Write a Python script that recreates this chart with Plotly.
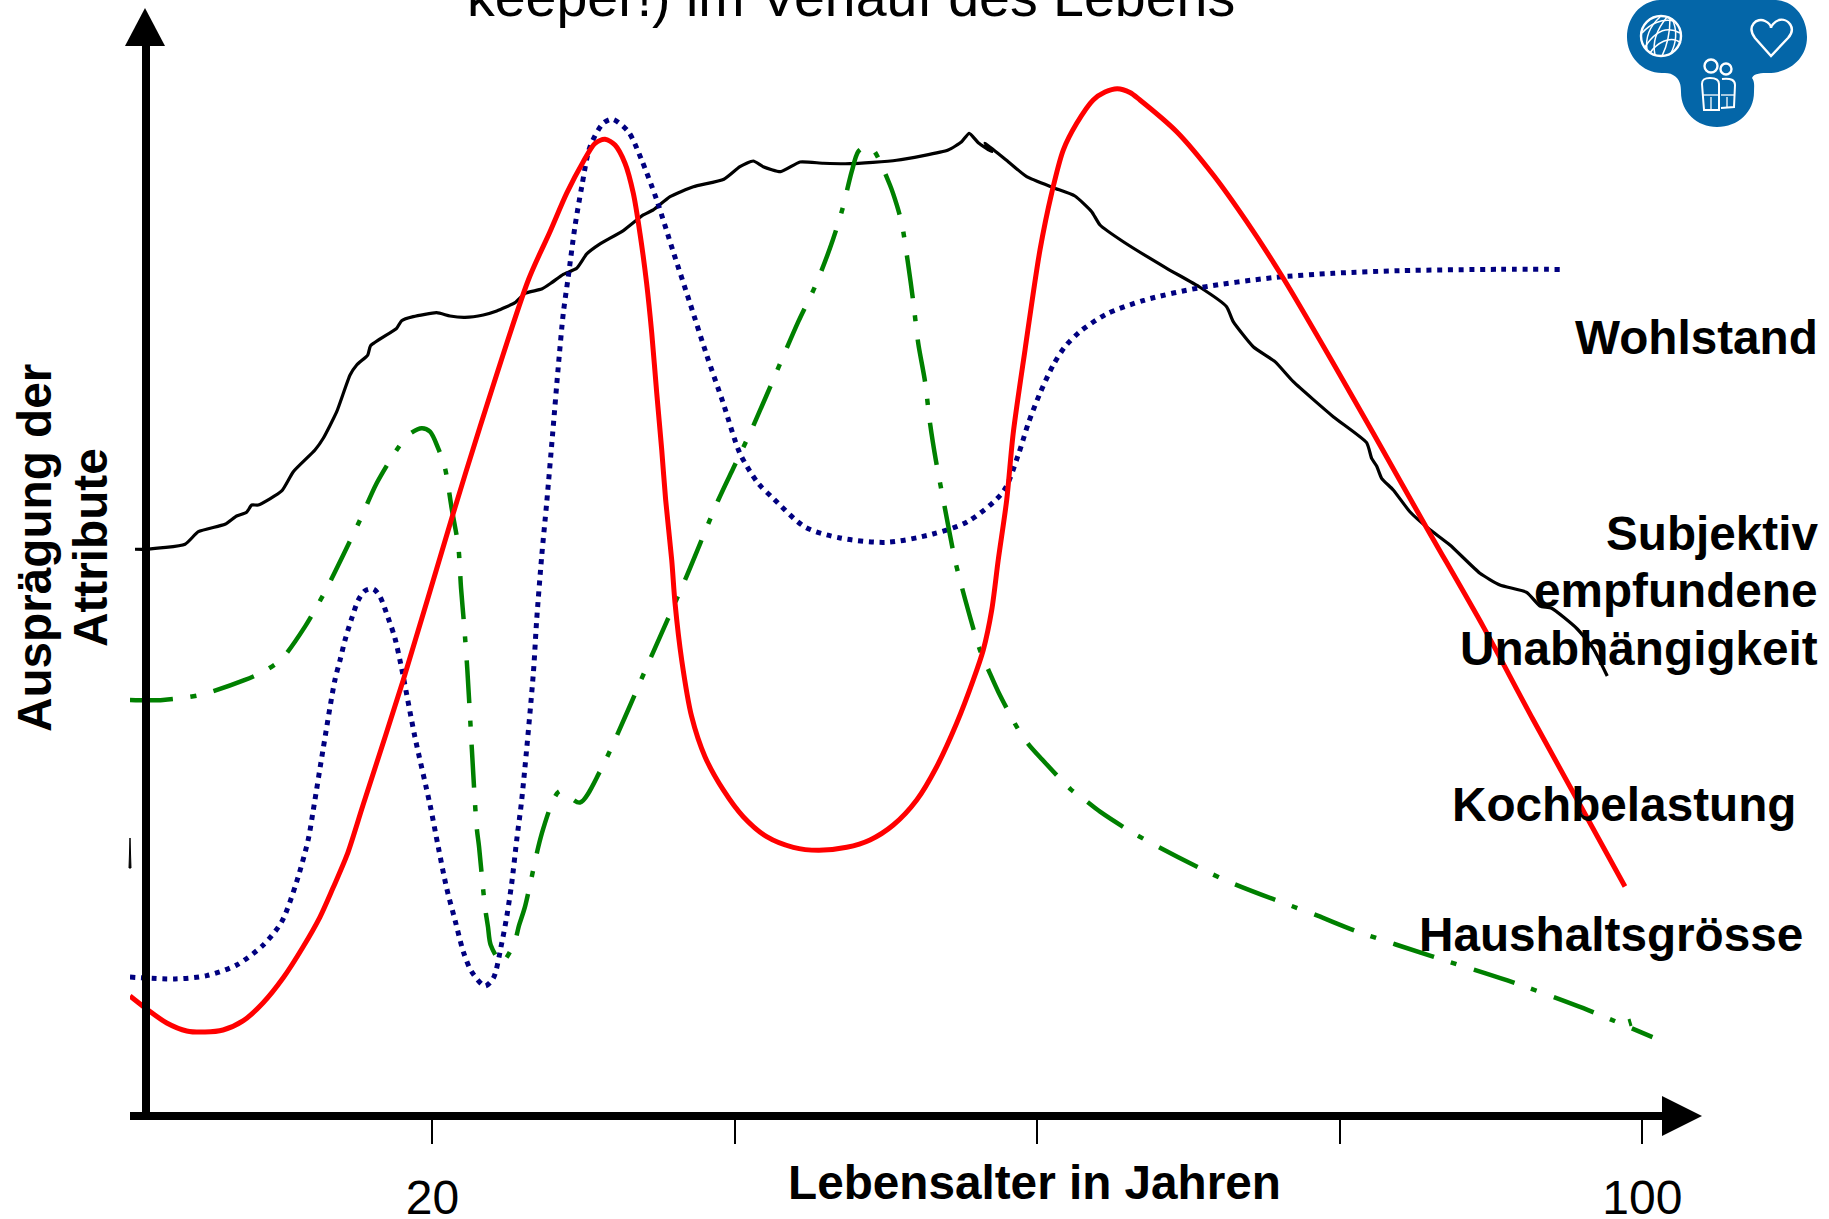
import plotly.graph_objects as go

# Values: age in years, attribute level on a free 0-100 scale
kochbelastung_age = [0,1.10,2.43,3.75,4.96,6.15,7.47,8.79,10.12,11.44,12.56,13.42,14.35,15.41,18.07,21.38,23.14,26.34,27.77,28.87,29.97,30.75,31.41,32.07,32.73,33.28,33.72,34.16,34.50,34.83,35.16,35.42,35.82,36.04,36.48,37.14,38.02,39.23,40.55,42.10,43.86,45.51,47.39,48.93,50.47,52.02,53.34,54.66,55.76,56.42,56.98,57.41,57.97,58.40,59.18,60.17,60.94,61.71,62.60,63.69,64.47,65.29,66.12,66.78,69.21,71.63,73.84,76.26,79.56,82.21,85.63,89.48,92.79,98.85]
kochbelastung_val = [10.88,9.66,8.35,7.60,7.50,7.69,8.54,10.23,12.57,15.48,18.29,21.01,24.11,28.80,40.53,56.19,64.26,78.05,82.58,86.18,89.15,90.87,91.25,90.71,89.0,86.18,82.43,77.74,73.05,67.42,62.10,57.41,51.78,47.72,42.40,37.08,33.33,30.21,27.70,25.83,24.83,24.55,24.83,25.52,26.92,29.27,32.39,36.46,40.53,43.34,47.09,51.78,57.41,63.67,71.48,80.86,86.18,90.24,92.75,94.94,95.69,96.00,95.64,94.94,91.96,87.90,83.52,78.21,70.24,63.67,55.07,45.53,36.77,21.15]

unabh_age = [0,2.98,5.07,7.05,8.81,10.03,11.02,11.79,12.12,12.76,13.55,13.89,14.22,14.66,15.10,15.54,16.09,16.53,17.08,17.52,17.96,18.84,19.84,20.38,20.94,21.49,22.04,22.59,23.47,24.02,24.58,24.91,25.24,25.57,25.90,26.67,26.89,27.22,27.55,27.95,28.32,28.65,28.98,29.42,29.87,30.42,31.29,31.89,32.95,33.83,34.83,35.92,37.03,38.13,39.23,40.33,41.52,42.53,44.63,46.95,50.02,53.09,55.41,57.74,58.73,59.40,60.17,61.05,61.82,62.81,64.58,67.11,70.75,75.59,79.56,83.97,90.58,94.75]
unabh_val = [12.66,12.48,12.79,13.79,15.67,17.85,21.60,25.58,28.33,33.96,40.53,42.40,44.28,46.31,48.03,48.90,49.06,48.34,46.31,44.44,41.62,35.18,28.80,24.89,20.99,18.01,15.04,13.16,11.82,12.54,15.83,18.32,21.45,25.52,29.27,41.15,46.15,52.09,57.10,63.70,69.92,74.93,78.36,83.05,86.80,90.56,92.75,93.13,91.96,89.31,85.55,80.70,75.87,71.01,66.48,61.79,59.0,57.57,54.88,53.85,53.44,54.22,55.40,58.19,61.63,64.61,67.42,70.08,71.79,73.20,74.86,76.17,77.33,78.27,78.68,78.92,79.05,79.04]

haushalt_age = [0,2.18,4.63,7.60,8.93,10.03,11.57,12.89,14.10,15.21,16.31,17.63,18.40,19.29,19.84,20.38,20.83,21.27,21.71,21.89,22.10,22.30,22.92,23.08,23.47,23.67,23.85,24.58,25.41,25.72,26.12,27.0,27.33,27.99,28.43,29.75,31.12,34.56,36.70,38.90,39.89,40.99,42.10,43.09,44.19,45.29,46.28,47.06,47.72,48.15,48.60,49.11,50.25,50.70,51.03,51.46,51.79,52.12,52.57,52.90,53.29,53.78,54.55,54.88,55.54,56.20,56.86,57.41,58.73,59.40,60.28,62.20,63.14,64.14,66.56,72.40,78.48,81.04,86.06,91.08,96.10,100.67]
haushalt_val = [38.65,38.65,39.12,40.53,41.40,42.50,45.53,48.81,52.25,55.54,58.98,62.10,63.51,64.14,63.82,62.26,60.39,56.63,53.03,49.13,45.53,41.62,26.76,24.89,19.26,17.38,15.67,14.04,15.85,17.48,19.26,24.89,26.61,29.27,30.11,29.03,32.08,43.03,49.91,57.41,60.39,63.67,67.26,70.55,74.14,77.42,81.02,84.46,88.21,90.09,90.5,90.31,86.96,85.09,83.37,79.46,76.02,72.11,68.51,64.61,61.10,57.41,51.78,49.91,46.46,43.34,41.15,39.43,35.90,34.52,33.12,30.27,29.27,28.17,25.99,21.76,18.44,16.99,14.62,12.34,9.74,7.02]

wohlstand_age = [0.33,1.10,3.64,4.52,6.28,7.05,7.71,8.05,8.48,10.03,10.80,12.23,12.78,13.67,14.55,14.99,15.72,15.91,17.63,17.96,18.73,20.28,21.16,22.15,23.36,24.25,25.46,26.12,27.22,27.88,
                 28.65,29.54,30.20,31.08,32.62,33.94,34.60,35.71,37.25,39.27,40.33,41.21,41.87,43.02,44.30,45.84,47.61,50.69,54.10,54.99,55.49,56.09,56.98,56.53,58.19,59.29,61.05,
                 62.48,63.59,64.14,65.68,68.55,70.75,72.51,72.95,74.27,75.71,76.92,79.56,81.77,82.10,82.43,82.76,83.53,84.63,85.84,87.28,89.26,90.58,92.35,93.23,94.0,95.65,96.75,97.68]
wohlstand_val = [52.79,52.79,53.26,54.44,55.13,55.91,56.26,56.94,56.94,58.26,60.07,62.10,63.20,65.70,69.14,70.08,71.01,71.89,73.52,74.23,74.61,74.98,74.67,74.55,74.77,75.14,75.92,76.80,77.20,77.80,
                 78.58,79.15,80.49,81.43,82.68,84.15,84.62,85.87,86.80,87.50,88.68,89.21,88.68,88.21,89.12,89.0,88.96,89.28,90.24,91.02,91.81,90.93,90.09,90.87,89.0,87.74,86.71,
                 85.93,84.46,83.21,81.64,79.15,77.37,75.55,74.14,71.79,70.39,68.51,65.23,62.79,61.32,60.60,59.45,58.35,56.31,54.76,53.19,50.54,49.44,48.75,47.47,47.25,45.38,43.50,40.90]

tick_vals = [20, 40, 60, 80, 100]
tick_text = ["20", "", "", "", "100"]

FONT = "Liberation Sans"
L, R, T, B = 130, 1662, 46, 1112
W, H = R - L, B - T

def fx(px):
    return (px - L) / W

def fy(py):
    return 1 - (py - T) / H

def path(cmds):
    """cmds: list of (letter, px, py, ...) in page pixels -> paper-space SVG path."""
    out = []
    for c in cmds:
        if c[0] == "Z":
            out.append("Z")
            continue
        nums = c[1:]
        pts = []
        for i in range(0, len(nums), 2):
            pts.append(f"{fx(nums[i]):.5f} {fy(nums[i+1]):.5f}")
        out.append(c[0] + " " + " ".join(pts))
    return " ".join(out)

fig = go.Figure()
fig.add_trace(go.Scatter(x=wohlstand_age, y=wohlstand_val, mode="lines", name="Wohlstand",
                         line=dict(color="black", width=3.2, shape="spline", smoothing=0.5)))
fig.add_trace(go.Scatter(x=unabh_age, y=unabh_val, mode="lines", name="Subjektiv empfundene Unabhängigkeit",
                         line=dict(color="#000080", width=5, dash="5px,5.7px", shape="spline", smoothing=0.8)))
fig.add_trace(go.Scatter(x=haushalt_age, y=haushalt_val, mode="lines", name="Haushaltsgrösse",
                         line=dict(color="#008000", width=4.5, dash="43px,17.5px,6px,18px", shape="spline", smoothing=0.8)))
fig.add_trace(go.Scatter(x=kochbelastung_age, y=kochbelastung_val, mode="lines", name="Kochbelastung",
                         line=dict(color="#ff0000", width=5, shape="spline", smoothing=0.8)))

def label(text, x, y, anchor="right", size=47.7, bold=True, angle=0):
    t = f"<b>{text}</b>" if bold else text
    fig.add_annotation(text=t, xref="paper", yref="paper", x=fx(x), y=fy(y), xanchor=anchor,
                       yanchor="middle", showarrow=False, textangle=angle,
                       font=dict(family=FONT, size=size, color="black"))

label("Wohlstand", 1820, 338)
label("Subjektiv", 1820, 533)
label("empfundene", 1820, 590)
label("Unabhängigkeit", 1820, 648)
label("Kochbelastung", 1798, 804)
label("Haushaltsgrösse", 1805, 934)
label("Lebensalter in Jahren", 1034, 1182, anchor="center")
label("Ausprägung der", 34, 548, anchor="center", angle=-90)
label("Attribute", 90, 548, anchor="center", angle=-90)
label("keeper!) im Verlauf des Lebens", 851, -3, anchor="center", size=55.5, bold=False)

shapes = []
# axis arrowheads and stray marks
shapes.append(dict(type="path", path=path([("M", 145, 8), ("L", 165, 46), ("L", 125, 46), ("Z",)]),
                   xref="paper", yref="paper", fillcolor="black", line=dict(width=0)))
shapes.append(dict(type="path", path=path([("M", 1702, 1116), ("L", 1662, 1096), ("L", 1662, 1136), ("Z",)]),
                   xref="paper", yref="paper", fillcolor="black", line=dict(width=0)))
shapes.append(dict(type="path", path=path([("M", 130, 838), ("L", 129, 868), ("L", 131, 868), ("Z",)]),
                   xref="paper", yref="paper", fillcolor="black", line=dict(color="black", width=1)))
shapes.append(dict(type="path", path=path([("M", 1629, 1019), ("L", 1631, 1026)]),
                   xref="paper", yref="paper", line=dict(color="#008000", width=3)))

# logo
BLUE = "#0466A8"
shapes.append(dict(type="path", xref="paper", yref="paper", fillcolor=BLUE, line=dict(width=0), path=path([
    ("M", 1660, 0),
    ("L", 1776, 0),
    ("C", 1795, 1, 1807, 18, 1807, 37),
    ("C", 1807, 58, 1790, 73, 1768, 73),
    ("C", 1762, 73, 1754, 73, 1752, 78),
    ("C", 1755, 82, 1754, 86, 1754, 92),
    ("C", 1754, 112, 1738, 127, 1717, 127),
    ("C", 1697, 127, 1681, 112, 1681, 92),
    ("C", 1681, 85, 1680, 79, 1673, 75),
    ("C", 1670, 73, 1666, 73, 1662, 73),
    ("C", 1642, 73, 1627, 56, 1627, 37),
    ("C", 1627, 18, 1640, 1, 1660, 0),
    ("Z",),
])))
def stroke(cmds, width=2):
    shapes.append(dict(type="path", xref="paper", yref="paper", path=path(cmds),
                       line=dict(color="white", width=width), fillcolor="rgba(0,0,0,0)"))
def ring(cx, cy, r, width=2):
    shapes.append(dict(type="circle", xref="paper", yref="paper", x0=fx(cx - r), x1=fx(cx + r),
                       y0=fy(cy + r), y1=fy(cy - r), line=dict(color="white", width=width)))
# globe
ring(1661, 36, 20, 2.4)
stroke([("M", 1645, 47), ("C", 1652, 36, 1664, 24, 1680, 33)], 1.5)
stroke([("M", 1650, 53), ("C", 1656, 44, 1670, 34, 1681, 43)], 1.5)
stroke([("M", 1642, 33), ("C", 1650, 24, 1662, 18, 1674, 21)], 1.5)
stroke([("M", 1667, 17), ("C", 1658, 28, 1652, 42, 1655, 55)], 1.5)
stroke([("M", 1670, 18), ("C", 1670, 30, 1668, 44, 1662, 56)], 1.5)
stroke([("M", 1660, 17), ("C", 1650, 26, 1645, 36, 1647, 50)], 1.5)
stroke([("M", 1672, 19), ("C", 1678, 30, 1676, 44, 1671, 53)], 1.5)
# heart
stroke([("M", 1771, 56), ("L", 1755, 38), ("C", 1746, 26, 1757, 17, 1765, 21), ("C", 1769, 23, 1771, 26, 1771, 28),
        ("C", 1771, 26, 1774, 22, 1779, 20), ("C", 1788, 18, 1797, 28, 1788, 38), ("Z",)], 2.4)
# people
ring(1711, 66, 6.5, 2.4)
ring(1726, 69, 5.5, 2.4)
stroke([("M", 1702, 84), ("C", 1702, 79, 1705, 78, 1710, 78), ("C", 1715, 78, 1719, 79, 1719, 84),
        ("L", 1719, 110), ("L", 1704, 110), ("Z",)], 2)
stroke([("M", 1722, 79), ("C", 1731, 78, 1735, 80, 1735, 85), ("L", 1734, 107), ("L", 1721, 108)], 2)
stroke([("M", 1702, 95), ("L", 1719, 95)], 1.3)
stroke([("M", 1711, 97), ("L", 1711, 110)], 1.3)
stroke([("M", 1721, 95), ("L", 1734, 95)], 1.3)
stroke([("M", 1727, 97), ("L", 1727, 107)], 1.3)

fig.update_layout(
    width=1829, height=1219, autosize=False,
    margin=dict(l=L, r=1829 - R, t=T, b=1219 - B, pad=0, autoexpand=False),
    paper_bgcolor="white", plot_bgcolor="white",
    showlegend=False,
    shapes=shapes,
    font=dict(family=FONT, color="black"),
    xaxis=dict(range=[0, 101.3], showgrid=False, zeroline=False, showline=True, linecolor="black", linewidth=8,
               automargin=False, ticks="outside", ticklen=24, tickwidth=2, tickcolor="black",
               tickmode="array", tickvals=tick_vals, ticktext=tick_text,
               tickfont=dict(family=FONT, size=48, color="black"), ticklabelstandoff=12),
    yaxis=dict(range=[0, 100], showgrid=False, zeroline=False, showline=True, linecolor="black", linewidth=8,
               automargin=False, anchor="free", position=(145.5 - L) / W, showticklabels=False, ticks=""),
)
fig.write_html("out.html", config={"displayModeBar": False},
               post_script="document.body.style.margin='0';document.body.style.overflow='hidden';")
